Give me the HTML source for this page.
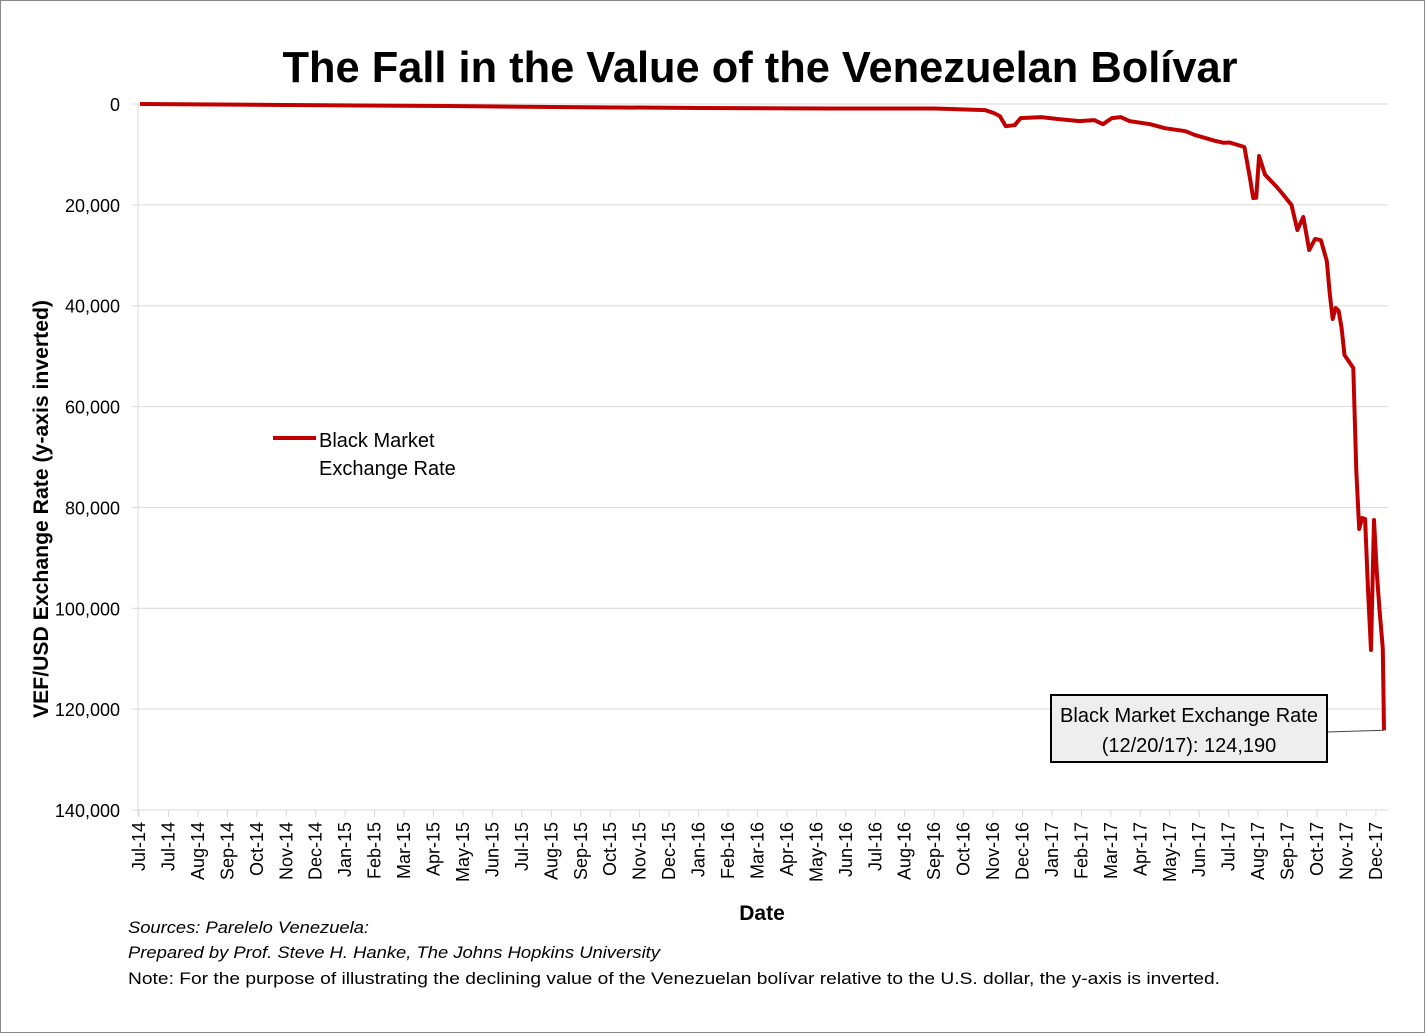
<!DOCTYPE html>
<html><head><meta charset="utf-8"><style>
html,body{margin:0;padding:0;background:#fff;}
svg{display:block;font-family:"Liberation Sans",sans-serif;}
</style></head><body>
<svg id="chart" width="1425" height="1033" viewBox="0 0 1425 1033">
<rect x="0.5" y="0.5" width="1424" height="1032" fill="#fff" stroke="#888"/>
<text x="760" y="82" text-anchor="middle" font-size="44" font-weight="bold" fill="#000" textLength="955" lengthAdjust="spacingAndGlyphs">The Fall in the Value of the Venezuelan Bolívar</text>
<g id="grid"></g>
<g id="yticks"></g>
<g id="xticks"></g>
<text transform="translate(48,509) rotate(-90)" text-anchor="middle" font-size="21" font-weight="bold" textLength="418" lengthAdjust="spacingAndGlyphs">VEF/USD Exchange  Rate (y-axis inverted)</text>
<text x="762" y="920" text-anchor="middle" font-size="21" font-weight="bold">Date</text>
<path id="series" fill="none" stroke="#C00000" stroke-width="4" stroke-linejoin="round"/>
<g>
<line x1="273" y1="438" x2="316" y2="438" stroke="#C00000" stroke-width="4"/>
<text x="319" y="447" font-size="20">Black Market</text>
<text x="319" y="475" font-size="20">Exchange Rate</text>
</g>
<line id="leader" x1="1327" y1="732" x2="1384" y2="730" stroke="#444" stroke-width="1"/>
<rect x="1051" y="695" width="276" height="67" fill="#eeeeee" stroke="#000" stroke-width="2"/>
<text x="1189" y="722" text-anchor="middle" font-size="20">Black Market Exchange Rate</text>
<text x="1189" y="752" text-anchor="middle" font-size="20">(12/20/17): 124,190</text>
<text x="128" y="933" font-size="17" font-style="italic" textLength="241" lengthAdjust="spacingAndGlyphs">Sources: Parelelo Venezuela:</text>
<text x="128" y="958" font-size="17" font-style="italic" textLength="532" lengthAdjust="spacingAndGlyphs">Prepared by Prof. Steve H. Hanke, The Johns Hopkins University</text>
<text x="128" y="984" font-size="17" textLength="1092" lengthAdjust="spacingAndGlyphs">Note: For the purpose of illustrating the declining value of the Venezuelan bolívar relative to the U.S. dollar, the y-axis is inverted.</text>
</svg>
<script>
const xLabels = ["Jul-14","Jul-14","Aug-14","Sep-14","Oct-14","Nov-14","Dec-14","Jan-15","Feb-15","Mar-15","Apr-15","May-15","Jun-15","Jul-15","Aug-15","Sep-15","Oct-15","Nov-15","Dec-15","Jan-16","Feb-16","Mar-16","Apr-16","May-16","Jun-16","Jul-16","Aug-16","Sep-16","Oct-16","Nov-16","Dec-16","Jan-17","Feb-17","Mar-17","Apr-17","May-17","Jun-17","Jul-17","Aug-17","Sep-17","Oct-17","Nov-17","Dec-17"];
const yTicks = [0,20000,40000,60000,80000,100000,120000,140000];
const tIndex = [0,5,10.5,14,19,23.5,27,28.7,29.0,29.2,29.4,29.7,29.9,30.6,31.2,31.9,32.4,32.7,33.0,33.3,33.6,34.3,34.8,35.5,35.8,36.5,36.8,37.0,37.5,37.7,37.8,37.9,38.0,38.2,38.6,38.8,39.1,39.3,39.5,39.7,39.9,40.1,40.3,40.4,40.5,40.6,40.7,40.8,40.9,41.2,41.3,41.4,41.5,41.6,41.7,41.8,41.9,42.0,42.1,42.2,42.24];
const rates = [0,200,400,600,800,900,900,1200,1800,2400,4400,4200,2800,2600,3000,3400,3200,4000,2800,2600,3400,4000,4800,5400,6100,7300,7700,7630,8530,15070,18640,18600,10310,14000,16460,17850,20030,24990,22410,28950,26770,27000,31130,37670,42630,40450,41000,44420,49770,52350,72780,84280,82100,82300,96780,108280,82500,93200,101000,108000,124190];
const X0=140, XS=29.45, Y0=104, YH=706, YMAX=140000;
const xs = i => X0 + i*XS;
const ys = v => Y0 + v/YMAX*YH;
const NS="http://www.w3.org/2000/svg";
const grid=document.getElementById('grid'), yt=document.getElementById('yticks'), xt=document.getElementById('xticks');
yTicks.forEach(v=>{
  const l=document.createElementNS(NS,'line');
  l.setAttribute('x1',132);l.setAttribute('x2',1388);l.setAttribute('y1',ys(v));l.setAttribute('y2',ys(v));
  l.setAttribute('stroke','#d9d9d9');l.setAttribute('stroke-width','1');
  
  
  grid.appendChild(l);
  const t=document.createElementNS(NS,'text');
  t.setAttribute('x',120);t.setAttribute('y',ys(v)+7);t.setAttribute('text-anchor','end');t.setAttribute('font-size','18');
  t.textContent=v.toLocaleString('en-US');
  
  
  yt.appendChild(t);
});
const ax=document.createElementNS(NS,'line');
ax.setAttribute('x1',138);ax.setAttribute('x2',138);ax.setAttribute('y1',104);ax.setAttribute('y2',816);ax.setAttribute('stroke','#d9d9d9');


grid.appendChild(ax);
xLabels.forEach((s,i)=>{
  const x=xs(i)-1;
  const tk=document.createElementNS(NS,'line');
  tk.setAttribute('x1',x);tk.setAttribute('x2',x);tk.setAttribute('y1',810);tk.setAttribute('y2',817);tk.setAttribute('stroke','#d9d9d9');
  
  
  xt.appendChild(tk);
  const t=document.createElementNS(NS,'text');
  t.setAttribute('transform','translate('+(x+6)+',822) rotate(-90)');
  t.setAttribute('text-anchor','end');t.setAttribute('font-size','18');
  t.textContent=s;
  
  
  xt.appendChild(t);
});
let d='';
tIndex.forEach((t,i)=>{d+=(i?'L':'M')+xs(t).toFixed(1)+','+ys(rates[i]).toFixed(1);});
document.getElementById('series').setAttribute('d',d);
const last=tIndex.length-1;
const ld=document.getElementById('leader');
ld.setAttribute('x2',xs(tIndex[last]));ld.setAttribute('y2',ys(rates[last]));
</script>
</body></html>
